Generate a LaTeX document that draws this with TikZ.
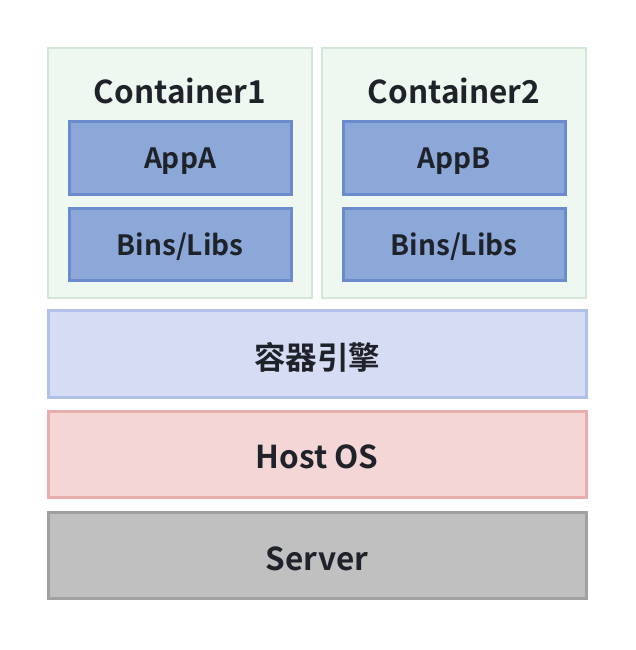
\documentclass[tikz,border=0pt]{standalone}
\usepackage{fontspec}
\setmainfont{Noto Sans CJK SC}[BoldFont={* Bold}]
\definecolor{txt}{HTML}{1F2329}
\definecolor{cfill}{HTML}{EEF8F1}
\definecolor{cdraw}{HTML}{D4E6D6}
\definecolor{afill}{HTML}{8BA8D8}
\definecolor{adraw}{HTML}{6A8CCF}
\definecolor{efill}{HTML}{D6DCF4}
\definecolor{edraw}{HTML}{B0C0E8}
\definecolor{hfill}{HTML}{F4D6D6}
\definecolor{hdraw}{HTML}{E8AEAE}
\definecolor{sfill}{HTML}{C0C0C0}
\definecolor{sdraw}{HTML}{A0A0A0}
\tikzset{
  box/.style={rectangle, inner sep=0pt, outer sep=0pt, draw, line width=3pt},
  cont/.style={rectangle, inner sep=0pt, outer sep=0pt, fill=cfill, draw=cdraw, line width=2pt},
  lbl/.style={text=txt, inner sep=0pt, yshift=-3pt},
  ttl/.style={lbl, font=\bfseries\fontsize{31.5}{36}\selectfont},
  small/.style={lbl, font=\bfseries\fontsize{28}{34}\selectfont},
  big/.style={lbl, font=\bfseries\fontsize{31.5}{36}\selectfont}
}
\begin{document}
\begin{tikzpicture}[x=1pt,y=-1pt]
\useasboundingbox (0,0) rectangle (636,650);
\fill[white] (0,0) rectangle (636,650);
% containers
\node[cont, minimum width=264pt, minimum height=250pt] (c1) at (180,173) {};
\node[cont, minimum width=264pt, minimum height=250pt] (c2) at (454,173) {};
\node[ttl] (t1) at (180,88) {Container1};
\node[ttl] (t2) at (454,88) {Container2};
\node[box, fill=afill, draw=adraw, minimum width=222pt, minimum height=72pt] (a1) at (180,158) {};
\node[box, fill=afill, draw=adraw, minimum width=222pt, minimum height=72pt] (b1) at (180,244) {};
\node[box, fill=afill, draw=adraw, minimum width=222pt, minimum height=72pt] (a2) at (454,158) {};
\node[box, fill=afill, draw=adraw, minimum width=222pt, minimum height=72pt] (b2) at (454,244) {};
\node[small] at (a1) {AppA};
\node[small] at (b1) {Bins/Libs};
\node[small] at (a2) {AppB};
\node[small] at (b2) {Bins/Libs};
% layers
\node[box, fill=efill, draw=edraw, minimum width=538pt, minimum height=87pt] (eng) at (317,354) {};
\node[box, fill=hfill, draw=hdraw, minimum width=538pt, minimum height=86pt] (host) at (317,454) {};
\node[box, fill=sfill, draw=sdraw, minimum width=538pt, minimum height=86pt] (srv) at (317,555.5) {};
\node[big] at (eng) {容器引擎};
\node[big] at (host) {Host OS};
\node[big] at (srv) {Server};
\end{tikzpicture}
\end{document}
